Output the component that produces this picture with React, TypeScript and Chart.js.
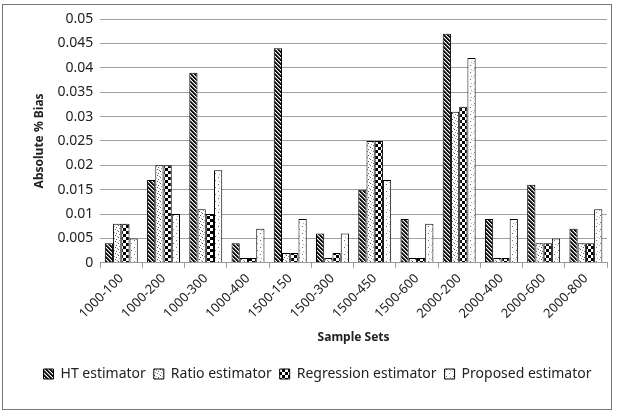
import React, { useEffect, useRef } from "react";
import { Chart, registerables } from "chart.js";

Chart.register(...registerables);

const categories = ["1000-100", "1000-200", "1000-300", "1000-400", "1500-150", "1500-300", "1500-450", "1500-600", "2000-200", "2000-400", "2000-600", "2000-800"];
const htValues = [0.004, 0.017, 0.039, 0.004, 0.044, 0.006, 0.015, 0.009, 0.047, 0.009, 0.016, 0.007];
const ratioValues = [0.008, 0.020, 0.011, 0.001, 0.002, 0.001, 0.025, 0.001, 0.031, 0.001, 0.004, 0.004];
const regressionValues = [0.008, 0.020, 0.010, 0.001, 0.002, 0.002, 0.025, 0.001, 0.032, 0.001, 0.004, 0.004];
const proposedValues = [0.005, 0.010, 0.019, 0.007, 0.009, 0.006, 0.017, 0.008, 0.042, 0.009, 0.005, 0.011];
const seriesNames = ["HT estimator", "Ratio estimator", "Regression estimator", "Proposed estimator"];
const yTicks = [0, 0.005, 0.01, 0.015, 0.02, 0.025, 0.03, 0.035, 0.04, 0.045, 0.05];

function makePattern(kind: string): CanvasPattern | string {
  const c = document.createElement("canvas");
  const ctx = c.getContext("2d");
  if (!ctx) return "#888";
  if (kind === "hatch") {
    c.width = 4; c.height = 4;
    ctx.fillStyle = "#ffffff";
    ctx.fillRect(0, 0, 4, 4);
    for (let i = 0; i < 4; i++) {
      ctx.fillStyle = "#111111";
      ctx.fillRect(i, i, 1, 1);
      ctx.fillRect((i + 1) % 4, i, 1, 1);
      ctx.fillStyle = "#777777";
      ctx.fillRect((i + 2) % 4, i, 1, 1);
    }
  } else if (kind === "dots") {
    c.width = 6; c.height = 6;
    ctx.fillStyle = "#ffffff";
    ctx.fillRect(0, 0, 6, 6);
    ctx.fillStyle = "#555555";
    ctx.fillRect(1, 1, 1, 1);
    ctx.fillRect(4, 3, 1, 1);
    ctx.fillRect(2, 5, 1, 1);
    ctx.fillStyle = "#999999";
    ctx.fillRect(5, 0, 1, 1);
    ctx.fillRect(0, 4, 1, 1);
    ctx.fillRect(3, 2, 1, 1);
  } else if (kind === "checker") {
    c.width = 6; c.height = 6;
    ctx.fillStyle = "#000000";
    ctx.fillRect(0, 0, 6, 6);
    ctx.fillStyle = "#ffffff";
    ctx.fillRect(0, 0, 3, 3);
    ctx.fillRect(3, 3, 3, 3);
  } else {
    c.width = 7; c.height = 7;
    ctx.fillStyle = "#ffffff";
    ctx.fillRect(0, 0, 7, 7);
    ctx.fillStyle = "#707070";
    ctx.fillRect(1, 2, 1, 1);
    ctx.fillRect(5, 5, 1, 1);
    ctx.fillStyle = "#b0b0b0";
    ctx.fillRect(4, 0, 1, 1);
    ctx.fillRect(2, 6, 1, 1);
  }
  return ctx.createPattern(c, "repeat") || "#888";
}

export default function App() {
  const ref = useRef<HTMLCanvasElement>(null);
  useEffect(() => {
    if (!ref.current) return;
    const fills = [makePattern("hatch"), makePattern("dots"), makePattern("checker"), makePattern("dots2")];
    const values = [htValues, ratioValues, regressionValues, proposedValues];
    const font = "'Noto Sans', 'Liberation Sans', sans-serif";
    const chart = new Chart(ref.current, {
      type: "bar",
      data: {
        labels: categories,
        datasets: seriesNames.map((name, i) => ({
          label: name,
          data: values[i],
          backgroundColor: fills[i] as any,
          borderColor: "#000000",
          borderWidth: 1,
          categoryPercentage: 0.78,
          barPercentage: 1.0,
        })),
      },
      options: {
        responsive: false,
        animation: false,
        layout: { padding: { left: 28, right: 10, top: 19, bottom: 23 } },
        plugins: {
          legend: {
            position: "bottom",
            labels: {
              boxWidth: 10,
              boxHeight: 10,
              padding: 8,
              color: "#222",
              font: { family: font, size: 14 },
            },
          },
          tooltip: { enabled: false },
        },
        scales: {
          x: {
            grid: { display: true, drawOnChartArea: false, color: "#999", tickLength: 5, offset: true },
            border: { color: "#999" },
            ticks: { maxRotation: 45, minRotation: 45, color: "#222", font: { family: font, size: 13 } },
            title: { display: true, text: "Sample Sets", color: "#222", font: { family: font, size: 12, weight: "bold" }, padding: { top: 6, bottom: 14 } },
          },
          y: {
            min: 0,
            max: 0.05,
            afterBuildTicks: (axis: any) => { axis.ticks = yTicks.map((v) => ({ value: v })); },
            grid: { color: "#a0a0a0", drawTicks: false },
            border: { display: false },
            ticks: {
              padding: 7,
              color: "#222",
              font: { family: font, size: 14 },
              callback: (v: any) => String(Number(v)),
            },
            title: { display: true, text: "Absolute % Bias", color: "#222", font: { family: font, size: 12, weight: "bold" } },
          },
        },
      },
    });
    return () => chart.destroy();
  }, []);
  return (
    <div style={{ position: "fixed", left: 0, top: 0, width: 617, height: 414, background: "#fff" }}>
      <div style={{ position: "absolute", left: 2, top: 4, width: 610, height: 406, border: "1px solid #777", boxSizing: "border-box" }} />
      <canvas ref={ref} width={617} height={414} style={{ position: "absolute", left: 0, top: 0 }} />
    </div>
  );
}
